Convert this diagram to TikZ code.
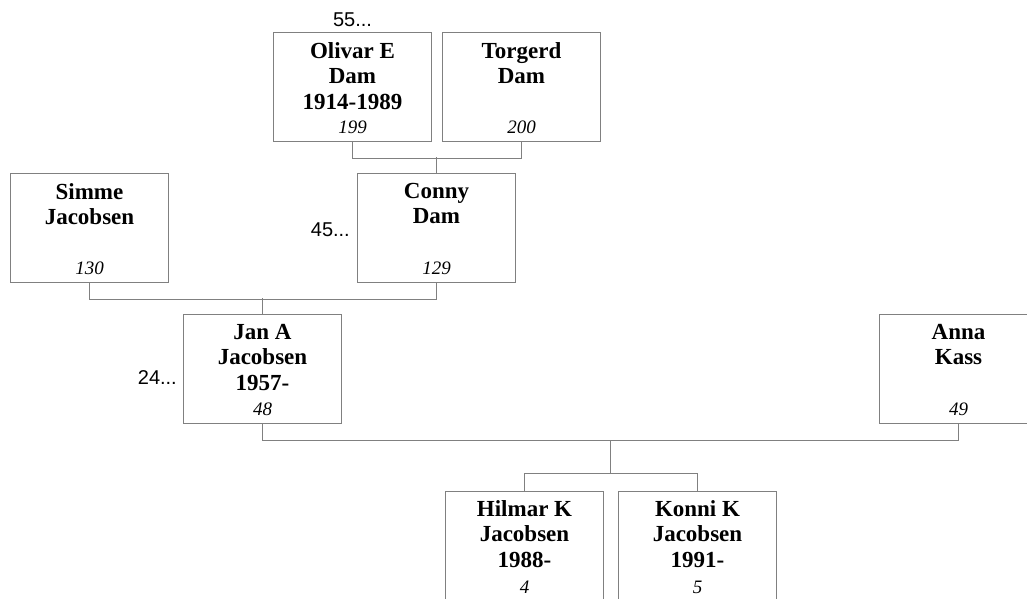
\documentclass[tikz,border=0pt]{standalone}
\usepackage{fontspec}
\setmainfont{Liberation Serif}
\newfontfamily\sansfont{Liberation Sans}
\usetikzlibrary{positioning}
\usetikzlibrary{calc}

\begin{document}
\begin{tikzpicture}[x=1pt, y=-1pt,
    person/.style={draw=gray, line width=1pt, fill=white, anchor=north west,
                   minimum width=158pt, minimum height=109pt, inner sep=0pt},
    who/.style={inner sep=0pt, align=center, font=\fontsize{23}{25.5}\selectfont\bfseries},
    nr/.style={inner sep=0pt, font=\fontsize{19}{21}\selectfont\itshape},
    more/.style={inner sep=0pt, font=\fontsize{20}{22}\sansfont},
    link/.style={draw=gray, line width=1pt}]
  \useasboundingbox (0, 0) rectangle (1027, 598);
  \clip (0, 0) rectangle (1027, 598);
  % rutor
  \node [person] (olivar) at (273, 32) {};
  \node [person] (torgerd) at (442, 32) {};
  \node [person] (simme) at (10, 173) {};
  \node [person] (conny) at (357, 173) {};
  \node [person] (jan) at (183, 314) {};
  \node [person] (anna) at (879, 314) {};
  \node [person] (hilmar) at (445, 491) {};
  \node [person] (konni) at (618, 491) {};
  % namn
  \node [who, below=10pt of olivar.north] (olivarname) {Olivar E\\Dam\\1914-1989};
  \node [who, below=10pt of torgerd.north] (torgerdname) {Torgerd\\Dam};
  \node [who, below=10pt of simme.north] (simmename) {Simme\\Jacobsen};
  \node [who, below=10pt of conny.north] (connyname) {Conny\\Dam};
  \node [who, below=10pt of jan.north] (janname) {Jan A\\Jacobsen\\1957-};
  \node [who, below=10pt of anna.north] (annaname) {Anna\\Kass};
  \node [who, below=9pt of hilmar.north] (hilmarname) {Hilmar K\\Jacobsen\\1988-};
  \node [who, below=9pt of konni.north] (konniname) {Konni K\\Jacobsen\\1991-};
  % nummer
  \node [nr, above=8.5pt of olivar.south] (olivarnr) {199};
  \node [nr, above=8.5pt of torgerd.south] (torgerdnr) {200};
  \node [nr, above=8.5pt of simme.south] (simmenr) {130};
  \node [nr, above=8.5pt of conny.south] (connynr) {129};
  \node [nr, above=8.5pt of jan.south] (jannr) {48};
  \node [nr, above=8.5pt of anna.south] (annanr) {49};
  \node [nr, above=7pt of hilmar.south] (hilmarnr) {4};
  \node [nr, above=7pt of konni.south] (konninr) {5};
  % fler generationer
  \node [more, above=5pt of olivar.north] (olivarmore) {55...};
  \node [more, left=7pt of conny.west, yshift=-2pt] (connymore) {45...};
  \node [more, left=6pt of jan.west, yshift=-9pt] (janmore) {24...};
  % linjer
  \draw [link] (olivar.south) -- ++(0, 16) -| (torgerd.south);
  \draw [link] (conny.north) -- ++(0, -16);
  \draw [link] (simme.south) -- ++(0, 16) -| (conny.south);
  \draw [link] (jan.north) -- ++(0, -16);
  \draw [link] (jan.south) -- ++(0, 16) -| (anna.south);
  \draw [link] (hilmar.north) -- ++(0, -18) -| (konni.north);
  \coordinate (famjoin) at ($(jan.south)!0.5!(anna.south) + (0, 16)$);
  \coordinate (kidsbar) at ($(hilmar.north) + (0, -18)$);
  \draw [link] (famjoin) -- (famjoin |- kidsbar);
\end{tikzpicture}
\end{document}
